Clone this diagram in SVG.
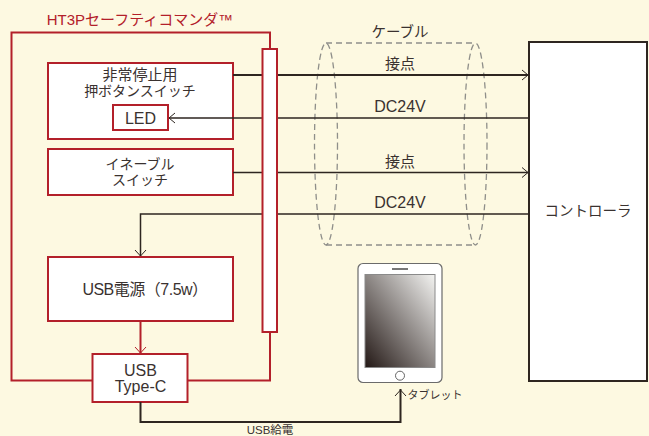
<svg xmlns="http://www.w3.org/2000/svg" width="649" height="436" viewBox="0 0 649 436">
<style>
text{font-family:"Liberation Sans","Noto Sans CJK JP",sans-serif;fill:#3a3230;text-anchor:middle}
.n{fill:#fff;stroke:#b3202a;stroke-width:2}
.r{fill:none;stroke:#b3202a;stroke-width:2}
.k{fill:none;stroke:#2e2620;stroke-width:2}
.k2{fill:none;stroke:#2e2620;stroke-width:1.500}
.a{fill:none;stroke:#2e2620;stroke-width:1}
.ra{fill:none;stroke:#b3202a;stroke-width:1}
.d{fill:none;stroke:#8f8f8a;stroke-width:1.300;stroke-dasharray:6 4}
</style>
<defs><linearGradient id="g" x1="1" y1="0" x2="0" y2="1"><stop offset="0" stop-color="#f4f4f2"/><stop offset="1" stop-color="#231815"/></linearGradient></defs>
<rect width="649" height="436" fill="#fdf9e1"/>
<g id="cable">
<ellipse class="d" cx="326" cy="144" rx="11.500" ry="101"/>
<ellipse class="d" cx="475.500" cy="144" rx="11.500" ry="101"/>
<path class="d" d="M326 43H475M326 245H475"/>
<text x="400" y="37" font-size="14.500">ケーブル</text>
</g>
<g id="title"><text x="140" y="25" font-size="15" style="fill:#b3202a">HT3Pセーフティコマンダ™</text></g>
<g id="estop"><rect class="n" x="48" y="63" width="185" height="76"/>
<text x="140" y="80" font-size="15">非常停止用</text><text x="140" y="96" font-size="14">押ボタンスイッチ</text></g>
<g id="led"><rect class="n" x="113" y="105" width="55" height="25"/><text x="140.500" y="124" font-size="16">LED</text></g>
<g id="enable"><rect class="n" x="48" y="149" width="185" height="46"/>
<text x="140" y="169" font-size="14">イネーブル</text><text x="140" y="185" font-size="14">スイッチ</text></g>
<g id="usbpower"><rect class="n" x="48" y="257" width="185" height="64"/><text x="145" y="295" font-size="16" letter-spacing="-0.5">USB電源（7.5w）</text></g>
<g id="typec"><rect class="n" x="92.500" y="354" width="95" height="48"/>
<text x="140.500" y="376" font-size="16">USB</text><text x="140.500" y="392" font-size="16">Type-C</text></g>
<g id="controller"><rect x="529" y="42" width="118" height="339" fill="#fff" stroke="#2e2620" stroke-width="2"/><text x="588" y="216" font-size="14.500">コントローラ</text></g>
<g id="connectors">
<path class="r" d="M270 49V32.500H11.500V380.500H92M188 380.500H270V332"/>
<path class="k" d="M233 75H528M140.500 402V422H400.500V389"/>
<path class="k2" d="M529 118H169M233 172.500H528M529 214H140.500V256"/>
<path class="a" d="M522 70l6 5l-6 5M175 113l-6 5l6 5M522 167.500l6 5l-6 5M135 250l5.500 6l5.500 -6M395 396l5.500 -6l5.500 6"/>
<path class="r" d="M140.500 321V353"/>
<path class="ra" d="M135 347l5.500 6l5.500 -6"/>
</g>
<g id="bar"><rect class="n" x="262.500" y="49" width="14.500" height="283"/></g>
<g id="tablet">
<rect x="358" y="263.500" width="84" height="119" rx="5" fill="#fff" stroke="#6b6b6b" stroke-width="1.200"/>
<rect x="365" y="274.500" width="70" height="93" fill="url(#g)" stroke="#8a8a8a" stroke-width="1"/>
<rect x="392" y="268" width="16" height="2" fill="#777"/>
<circle cx="400" cy="375.700" r="4.500" fill="#fff" stroke="#666" stroke-width="1"/>
<text x="435" y="399" font-size="11">タブレット</text>
</g>
<g id="labels">
<text x="400" y="69" font-size="15">接点</text>
<text x="400" y="112" font-size="16">DC24V</text>
<text x="400" y="167" font-size="15">接点</text>
<text x="400" y="208" font-size="16">DC24V</text>
<text x="270" y="433.500" font-size="11.500">USB給電</text>
</g>
</svg>
